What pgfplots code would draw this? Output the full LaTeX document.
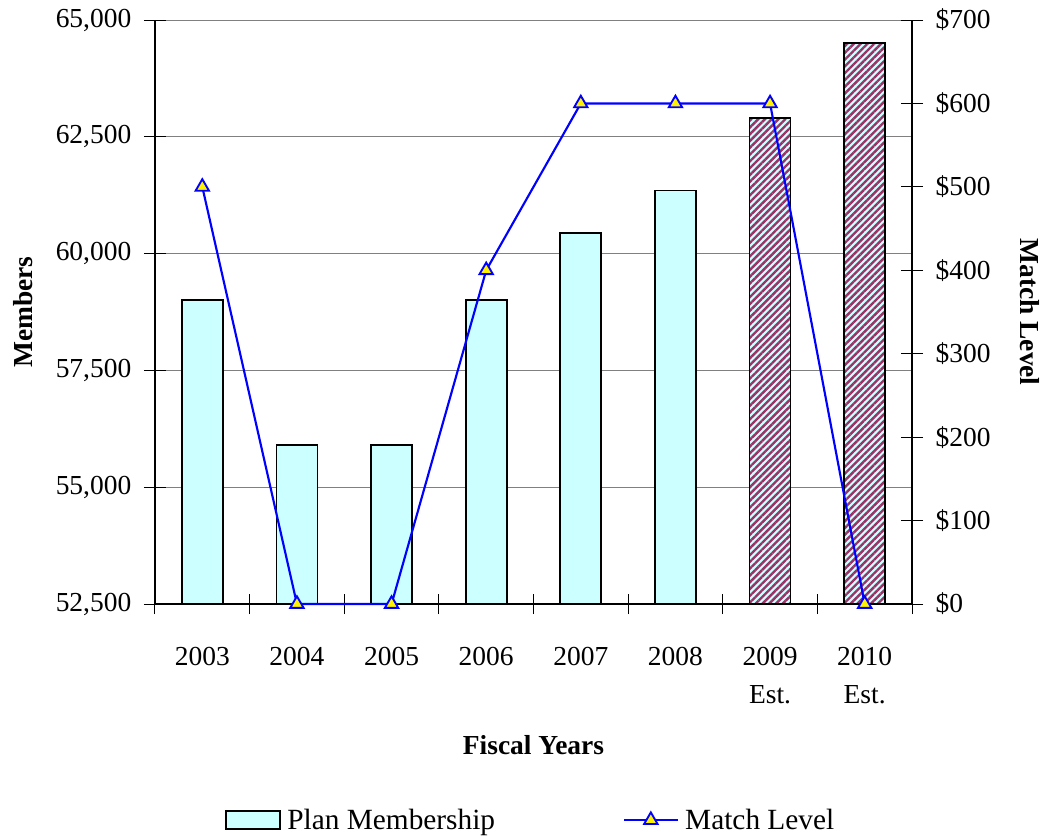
\documentclass[border=0pt]{standalone}
\usepackage{pgfplots}
\pgfplotsset{compat=1.18}
\usepackage{fontspec}
\setmainfont{Liberation Serif}
\usetikzlibrary{patterns.meta}
\definecolor{barcyan}{HTML}{CCFFFF}
\definecolor{stripe}{HTML}{993366}
\begin{document}
\begin{tikzpicture}[font=\fontsize{20.6}{28.5}\selectfont]
\begin{axis}[name=main,
 scale only axis, width=567.75pt, height=438pt,
 xmin=-0.5, xmax=7.5, ymin=52500, ymax=65000,
 axis x line*=bottom, axis y line*=left,
 axis line style={black, line width=1.1pt},
 xtick={0,...,7},
 xticklabels={2003,2004,2005,2006,2007,2008,{2009\\Est.},{2010\\Est.}},
 xticklabel style={align=center, anchor=north, yshift=-21pt},
 major x tick style={draw=none},
 minor xtick={-0.5,0.5,...,7.5},
 minor tick length=15pt,
 ytick={52500,55000,...,65000},
 scaled y ticks=false,
 yticklabel style={xshift=-6pt, /pgf/number format/fixed, /pgf/number format/1000 sep={,}, /pgf/number format/assume math mode=true},
 ymajorgrids, grid style={gray, line width=0.75pt},
 tick align=center, major tick length=16.5pt,
 tick style={black, line width=0.75pt},
 ylabel={\textbf{Members}},
 ylabel style={at={(axis description cs:-0.1744,0.5)}, anchor=center},
 xlabel={\textbf{Fiscal Years}},
 xlabel style={at={(axis description cs:0.5,-0.241)}, anchor=center},
 legend style={at={(0.497,-0.37)}, anchor=center, draw=none, legend columns=2,
   /tikz/every even column/.append style={column sep=94pt},
   /tikz/every odd column/.append style={column sep=3pt},
   font=\fontsize{22}{26}\selectfont},
]
\addplot[ybar, bar width=30.75pt, bar shift=0pt, fill=barcyan, draw=black, line width=1.4pt,
  legend image code/.code={\draw[fill=barcyan, draw=black, line width=1.4pt] (0pt,-7pt) rectangle (40pt,7pt);}]
  coordinates {(0,59000)(1,55900)(2,55900)(3,59000)(4,60450)(5,61350)};
\addlegendentry{Plan Membership}
\addplot[ybar, bar width=30.75pt, bar shift=0pt, fill=barcyan, draw=black, line width=1.4pt,
  postaction={pattern={Lines[angle=45,distance=3.6pt,line width=1.8pt]}, pattern color=stripe}, forget plot]
  coordinates {(6,62900)(7,64500)};
\addlegendimage{legend image code/.code={\draw[blue, line width=1.6pt] (0pt,0pt) -- (40pt,0pt);
  \draw[blue, fill=yellow, line width=1.4pt] plot[mark=triangle*, mark size=5.8pt] coordinates {(20pt,0pt)};}}
\addlegendentry{Match Level}
\end{axis}
\begin{axis}[
 scale only axis, width=567.75pt, height=438pt,
 xmin=-0.5, xmax=7.5, ymin=0, ymax=700,
 axis x line=none, axis y line*=right,
 axis line style={black, line width=1.1pt},
 ytick={0,100,...,700},
 yticklabel={\$\pgfmathprintnumber{\tick}},
 yticklabel style={xshift=6pt, /pgf/number format/fixed, /pgf/number format/assume math mode=true},
 tick align=center, major tick length=16.5pt,
 tick style={black, line width=0.75pt},
 ylabel={\textbf{Match Level}},
 ylabel style={at={(axis description cs:1.156,0.5)}, anchor=center, rotate=180},
 clip=false,
]
\addplot[blue, line width=1.6pt, mark=triangle*, mark size=5.8pt, mark options={fill=yellow, draw=blue, line width=1.4pt}]
  coordinates {(0,500)(1,0)(2,0)(3,400)(4,600)(5,600)(6,600)(7,0)};
\end{axis}
\path (main.south west) ++(-116.25pt,-174pt) coordinate (bl);
\path (main.north east) ++(101.25pt,15pt) coordinate (tr);
\path (bl) rectangle (tr);
\end{tikzpicture}
\end{document}
